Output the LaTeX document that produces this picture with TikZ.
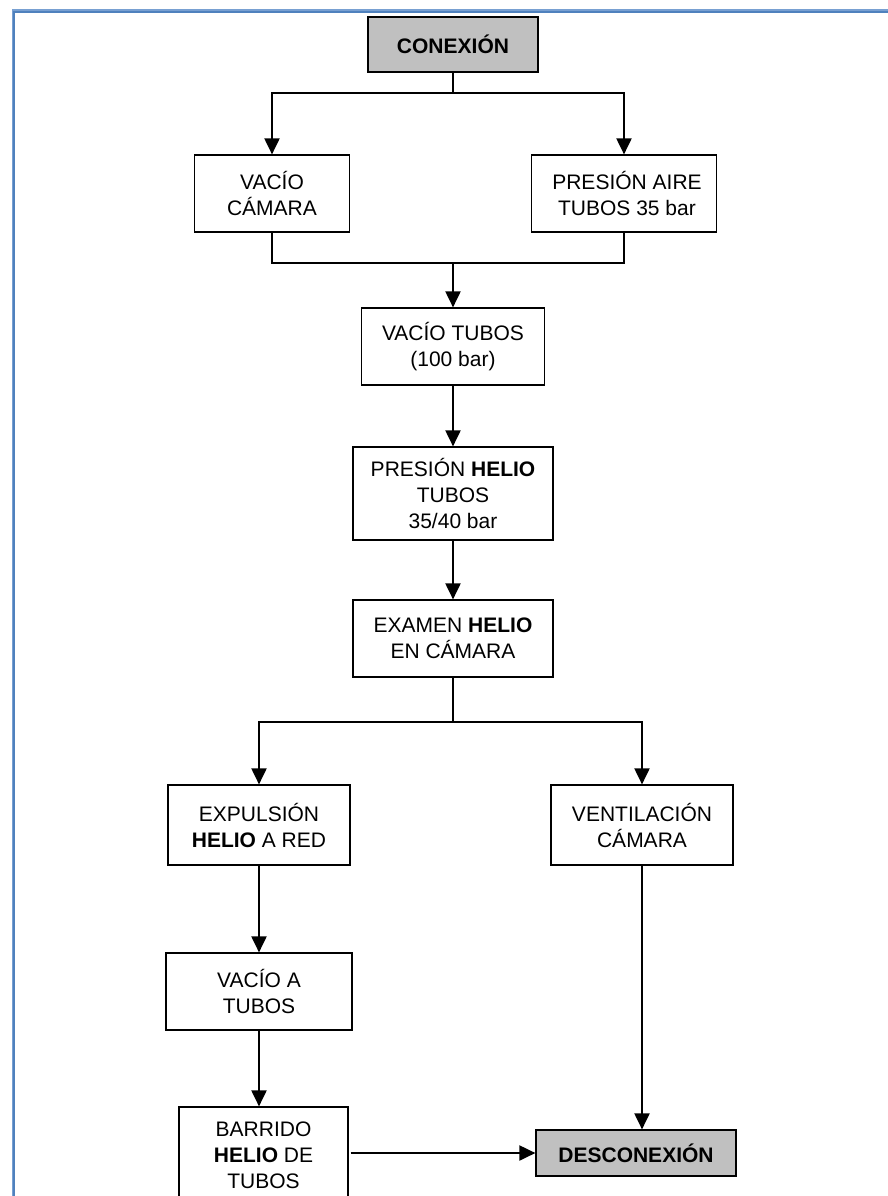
\documentclass[tikz,border=0pt]{standalone}
\usepackage{fontspec}
\setmainfont{Liberation Sans}
\usetikzlibrary{arrows.meta}
\definecolor{frameblue}{RGB}{79,129,189}
\definecolor{framelight}{RGB}{120,160,210}
\definecolor{boxgray}{RGB}{192,192,192}
\begin{document}
\begin{tikzpicture}[x=1pt,y=-1pt,
  box/.style={draw=black,line width=1.2pt,fill=white,inner sep=0pt,align=center,
    font=\fontsize{21}{26}\selectfont},
  graybox/.style={box,fill=boxgray,font=\fontsize{21}{26}\selectfont\bfseries},
  conn/.style={line width=2pt},
  arr/.style={conn,-{Triangle[width=15pt,length=16pt]}}]
\useasboundingbox (0,0) rectangle (887,1196);
\fill[white] (0,0) rectangle (887,1196);
% frame
\draw[framelight,line width=3pt] (13.5,1200) -- (13.5,11) -- (890,11);
\draw[frameblue,line width=1.2pt] (14,1200) -- (14,12) -- (890,12);
% nodes
\node[graybox,minimum width=170pt,minimum height=55pt] (con) at (453,44.5) {CONEXIÓN};
\node[box,minimum width=155pt,minimum height=77pt] (vcam) at (272,193.5) {VACÍO\\CÁMARA};
\node[box,minimum width=185pt,minimum height=77pt] (paire) at (624,193.5) {\hspace*{6pt}PRESIÓN AIRE\\\hspace*{6pt}TUBOS 35 bar};
\node[box,minimum width=183pt,minimum height=77pt] (vtub) at (453,346.5) {VACÍO TUBOS\\(100 bar)};
\node[box,minimum width=200pt,minimum height=93pt] (phel) at (453,493.5) {PRESIÓN \textbf{HELIO}\\TUBOS\\35/40 bar};
\node[box,minimum width=200pt,minimum height=77pt] (exam) at (453,638.5) {EXAMEN \textbf{HELIO}\\EN CÁMARA};
\node[box,minimum width=182pt,minimum height=80pt] (expu) at (259,825) {EXPULSIÓN\\\textbf{HELIO} A RED};
\node[box,minimum width=182pt,minimum height=80pt] (vent) at (642,825) {VENTILACIÓN\\CÁMARA};
\node[box,minimum width=186pt,minimum height=77pt] (vat) at (259,991.5) {VACÍO A\\TUBOS};
\node[box,minimum width=169pt,minimum height=96pt] (barr) at (263.5,1155) {BARRIDO\\\textbf{HELIO} DE\\TUBOS};
\node[graybox,minimum width=200pt,minimum height=46pt] (desc) at (636,1153) {DESCONEXIÓN};
% junctions
\coordinate (j1) at (453,93);
\coordinate (j2) at (453,263);
\coordinate (j3) at (453,722);
% connectors
\draw[conn] (con.south) -- (j1);
\draw[arr] (j1) -| (vcam.north);
\draw[arr] (j1) -| (paire.north);
\draw[conn] (vcam.south) |- (j2);
\draw[conn] (paire.south) |- (j2);
\draw[arr] (j2) -- (vtub.north);
\draw[arr] (vtub.south) -- (phel.north);
\draw[arr] (phel.south) -- (exam.north);
\draw[conn] (exam.south) -- (j3);
\draw[arr] (j3) -| (expu.north);
\draw[arr] (j3) -| (vent.north);
\draw[arr] (expu.south) -- (vat.north);
\draw[arr] (vat.south) -- (vat.south |- barr.north);
\draw[arr] (vent.south) -- (vent.south |- desc.north);
\draw[arr] ([xshift=2pt]barr.east |- desc.west) -- (desc.west);
\end{tikzpicture}
\end{document}
